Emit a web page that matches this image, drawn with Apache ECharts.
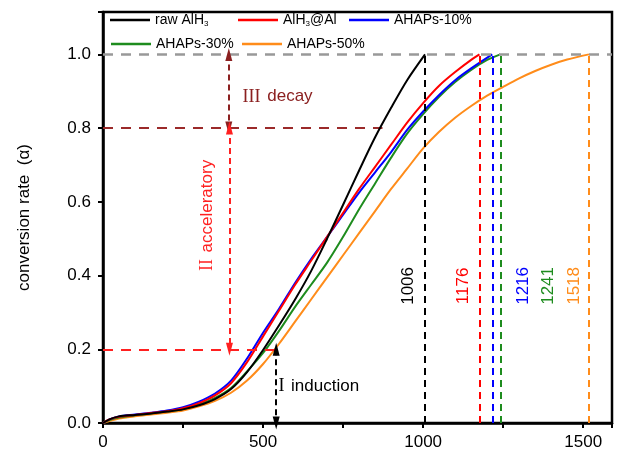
<!DOCTYPE html>
<html>
<head>
<meta charset="utf-8">
<script src="https://cdn.jsdelivr.net/npm/echarts@6/dist/echarts.min.js"></script>
<style>
html,body{margin:0;padding:0;background:#fff}
#main{width:617px;height:457px}
</style>
</head>
<body>
<div id="main"></div>
<script>
var SANS = '"Liberation Sans",Arial,sans-serif';
var SERIF = '"Liberation Serif","DejaVu Serif",serif';

// series names / colours
var names = ['raw AlH3', 'AlH3@Al', 'AHAPs-10%', 'AHAPs-30%', 'AHAPs-50%'];
var legendText = ['raw AlH{s|3}', 'AlH{s|3}@Al', 'AHAPs-10%', 'AHAPs-30%', 'AHAPs-50%'];
var colors = ['#000000', '#ff0000', '#0000ff', '#1e8c1e', '#ff8c1a'];
// time where each curve reaches alpha = 1
var endTimes = [1006, 1176, 1216, 1241, 1518];

// [time, alpha]
var rawAlH3 = [[0,0],[20,0.01],[50,0.018],[100,0.022],[150,0.026],[200,0.031],[250,0.037],[300,0.048],[350,0.065],[400,0.092],[450,0.138],[500,0.198],[550,0.265],[600,0.335],[650,0.412],[700,0.5],[750,0.592],[800,0.685],[850,0.775],[900,0.855],[950,0.93],[1006,1.0]];
var alh3Al = [[0,0],[20,0.01],[50,0.017],[100,0.022],[150,0.027],[200,0.032],[250,0.04],[300,0.054],[350,0.075],[400,0.108],[450,0.165],[500,0.235],[550,0.305],[600,0.375],[650,0.44],[700,0.505],[750,0.57],[800,0.635],[850,0.695],[900,0.755],[950,0.815],[1000,0.868],[1050,0.915],[1100,0.952],[1150,0.985],[1176,1.0]];
var ahaps10 = [[0,0],[20,0.01],[50,0.018],[100,0.023],[150,0.028],[200,0.034],[250,0.043],[300,0.058],[350,0.08],[400,0.115],[450,0.175],[500,0.245],[550,0.31],[600,0.38],[650,0.445],[700,0.505],[750,0.565],[800,0.625],[850,0.68],[900,0.735],[950,0.795],[1000,0.845],[1050,0.89],[1100,0.93],[1150,0.962],[1216,1.0]];
var ahaps30 = [[0,0],[20,0.008],[50,0.015],[100,0.021],[150,0.026],[200,0.031],[250,0.038],[300,0.05],[350,0.068],[400,0.095],[450,0.14],[500,0.19],[550,0.25],[600,0.315],[650,0.375],[700,0.435],[750,0.505],[800,0.58],[850,0.65],[900,0.72],[950,0.785],[1000,0.838],[1050,0.885],[1100,0.925],[1150,0.958],[1200,0.985],[1241,1.0]];
var ahaps50 = [[0,0],[20,0.005],[50,0.012],[100,0.018],[150,0.023],[200,0.028],[250,0.034],[300,0.045],[350,0.06],[400,0.082],[450,0.115],[500,0.16],[550,0.215],[600,0.275],[650,0.335],[700,0.395],[750,0.455],[800,0.515],[850,0.575],[900,0.635],[950,0.69],[1000,0.745],[1050,0.79],[1100,0.828],[1150,0.86],[1200,0.888],[1250,0.912],[1300,0.935],[1350,0.955],[1400,0.972],[1450,0.986],[1518,1.0]];
var curves = [rawAlH3, alh3Al, ahaps10, ahaps30, ahaps50];

// stage boundaries
var stageLevels = [0.2, 0.8, 1.0];

var chart = echarts.init(document.getElementById('main'));

var legendPos = [[110, 13], [238, 13], [349, 13], [111, 37], [242, 37]];
var legends = names.map(function (n, i) {
  return {
    data: [n], left: legendPos[i][0], top: legendPos[i][1], padding: 0,
    icon: 'rect', itemWidth: 40, itemHeight: 2.5, itemGap: 6,
    selectedMode: false,
    formatter: function () { return legendText[i]; },
    textStyle: {
      fontFamily: SANS, fontSize: 14, color: '#000', padding: [0, 0, 0, 0],
      rich: { s: { fontFamily: SANS, fontSize: 8, padding: [7, 0, 0, 0], color: '#000' } }
    }
  };
});

var series = curves.map(function (d, i) {
  return {
    name: names[i], type: 'line', data: d, showSymbol: false,
    smooth: 0.3,
    lineStyle: { color: colors[i], width: 2 }, itemStyle: { color: colors[i] },
    z: 5 - i,
    markLine: {
      silent: true, symbol: 'none', label: { show: false },
      lineStyle: { color: colors[i], type: [7, 5], width: 2 },
      data: [[{ coord: [endTimes[i], 0] }, { coord: [endTimes[i], 1] }]]
    }
  };
});

function hline(y, x1, color, dash, w) {
  return [{ coord: [0, y], symbol: 'none', lineStyle: { color: color, type: dash, width: w } },
          { coord: [x1, y], symbol: 'none' }];
}
function arrow(x, y1, y2, color) {
  return [{ coord: [x, y1], lineStyle: { color: color, type: [6, 4], width: 2 }, itemStyle: { color: color } },
          { coord: [x, y2] }];
}

series.push({
  name: 'annot', type: 'line', data: [], z: 1,
  markLine: {
    silent: true, symbol: ['triangle', 'triangle'], symbolSize: [7, 13],
    label: { show: false }, animation: false,
    data: [
      hline(stageLevels[2], 1590, '#999999', [10, 8], 2.5),
      hline(stageLevels[1], 873, '#9b2a2a', [10, 8], 2),
      hline(stageLevels[0], 545, '#ff2020', [10, 8], 2),
      arrow(393, stageLevels[2], stageLevels[1], '#8b2020'),
      arrow(395, stageLevels[1], stageLevels[0], '#ff2020'),
      arrow(541, stageLevels[0], 0, '#000000')
    ]
  }
});

chart.setOption({
  animation: false,
  legend: legends,
  grid: { left: 103, right: 5, top: 12, bottom: 34, show: true, borderColor: '#000', borderWidth: 2.5 },
  xAxis: {
    type: 'value', min: 0, max: 1590, interval: 250,
    axisLine: { lineStyle: { color: '#000', width: 2.5 } },
    axisTick: { lineStyle: { color: '#000', width: 2 }, length: 5 },
    splitLine: { show: false },
    axisLabel: {
      color: '#000', fontFamily: SANS, fontSize: 17, margin: 11,
      formatter: function (v) { return v % 500 === 0 ? String(v) : ''; }
    }
  },
  yAxis: {
    type: 'value', min: 0, max: 1.115, interval: 0.2,
    name: 'conversion rate  (α)', nameLocation: 'middle', nameGap: 70, nameRotate: 90,
    nameTextStyle: { color: '#000', fontFamily: SANS, fontSize: 17 },
    axisLine: { lineStyle: { color: '#000', width: 2.5 } },
    axisTick: { lineStyle: { color: '#000', width: 2 }, length: 5 },
    splitLine: { show: false },
    axisLabel: {
      color: '#000', fontFamily: SANS, fontSize: 17, margin: 12,
      formatter: function (v) { return Math.abs(v * 5 - Math.round(v * 5)) < 1e-6 ? v.toFixed(1) : ''; }
    }
  },
  series: series
});

// text annotations placed through the axes
function px(x, y) { return chart.convertToPixel({ gridIndex: 0 }, [x, y]); }
var labelShift = [-17, -16, 31, 48, -15];
var g = [];
endTimes.forEach(function (t, i) {
  var p = px(t, 0.372);
  g.push({
    type: 'text', x: p[0] + labelShift[i], y: p[1], rotation: Math.PI / 2,
    style: { text: String(t), fill: colors[i], font: '17px ' + SANS, align: 'center', verticalAlign: 'middle' }
  });
});
var pd = px(436, 0.885);
g.push({
  type: 'text', x: pd[0], y: pd[1],
  style: {
    text: '{r|III}  {t|decay}', verticalAlign: 'middle', align: 'left',
    rich: { r: { fill: '#8b2020', font: '18px ' + SERIF }, t: { fill: '#8b2020', font: '17px ' + SANS } }
  }
});
var pa = px(325, 0.563);
g.push({
  type: 'text', x: pa[0], y: pa[1], rotation: Math.PI / 2,
  style: {
    text: '{r|II}  {t|acceleratory}', verticalAlign: 'middle', align: 'center',
    rich: { r: { fill: '#ff2020', font: '18px ' + SERIF }, t: { fill: '#ff2020', font: '17px ' + SANS } }
  }
});
var pi = px(548, 0.099);
g.push({
  type: 'text', x: pi[0], y: pi[1],
  style: {
    text: '{r|I}  {t|induction}', verticalAlign: 'middle', align: 'left',
    rich: { r: { fill: '#000', font: '18px ' + SERIF }, t: { fill: '#000', font: '17px ' + SANS } }
  }
});
chart.setOption({ graphic: g });
</script>
</body>
</html>
